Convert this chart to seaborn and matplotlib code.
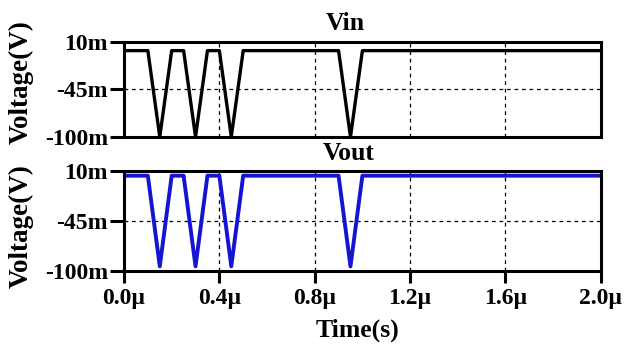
import matplotlib
matplotlib.use("Agg")
import matplotlib.pyplot as plt
import pandas as pd
import seaborn as sns

# waveform corner points (time in microseconds, voltage in mV)
time_us = [0.0, 0.1, 0.15, 0.2, 0.25, 0.3, 0.35, 0.4, 0.45, 0.5, 0.9, 0.95, 1.0, 2.0]
vin_mv = [0, 0, -100, 0, 0, -100, 0, 0, -100, 0, 0, -100, 0, 0]
vout_mv = [5, 5, -95, 5, 5, -95, 5, 5, -95, 5, 5, -95, 5, 5]

x_ticks = [0.0, 0.4, 0.8, 1.2, 1.6, 2.0]
x_ticklabels = ["0.0µ", "0.4µ", "0.8µ", "1.2µ", "1.6µ", "2.0µ"]
y_ticks = [10, -45, -100]
y_ticklabels = ["10m", "-45m", "-100m"]

sns.set_style("ticks")
plt.rcParams['font.family'] = ['Liberation Serif', 'DejaVu Serif']
plt.rcParams['font.weight'] = 'bold'
for key in ['text.color', 'axes.labelcolor', 'xtick.color', 'ytick.color']:
    plt.rcParams[key] = 'black'

df = pd.DataFrame({"time": time_us, "Vin": vin_mv, "Vout": vout_mv})

fig = plt.figure(figsize=(6.34, 3.5), dpi=100)
ax_in = fig.add_axes([0.1956, 0.609, 0.752, 0.271])
ax_out = fig.add_axes([0.1956, 0.226, 0.752, 0.285])

# (axes, column, colour, line width, title x, title y, ylabel y)
panels = [(ax_in, "Vin", "black", 2.4, 0.465, 1.195, 0.579),
          (ax_out, "Vout", "#1414d2", 2.8, 0.472, 1.18, 0.445)]
for ax, col, color, lw, tx, ty, ly in panels:
    sns.lineplot(data=df, x="time", y=col, ax=ax, color=color, linewidth=lw)
    ax.set_xlim(0, 2.0)
    ax.set_ylim(-100, 10)
    ax.set_xticks(x_ticks)
    ax.set_yticks(y_ticks)
    ax.set_yticklabels(y_ticklabels, fontsize=17, fontweight='bold')
    ax.grid(True, color='black', linestyle=(0, (3, 3)), linewidth=0.9)
    ax.set_axisbelow(True)
    for s in ax.spines.values():
        s.set_linewidth(2.2)
        s.set_color('black')
    ax.tick_params(axis='y', direction='out', length=10, width=2.2, pad=1.5)
    ax.text(tx, ty, col, transform=ax.transAxes, ha='center', va='center',
            fontsize=18.5, fontweight='bold')
    ax.set_ylabel("Voltage(V)", fontsize=19.5, fontweight='bold')
    ax.yaxis.set_label_coords(-0.19, ly)

ax_in.set_xlabel("")
ax_in.tick_params(axis='x', length=0, labelbottom=False)
ax_out.set_xticklabels(x_ticklabels, fontsize=17, fontweight='bold')
ax_out.tick_params(axis='x', direction='out', length=8.5, width=2.2, pad=4)
ax_out.set_xlabel("Time(s)", fontsize=18.5, fontweight='bold')
ax_out.xaxis.set_label_coords(0.49, -0.48)

fig.savefig("out.png", dpi=100)
